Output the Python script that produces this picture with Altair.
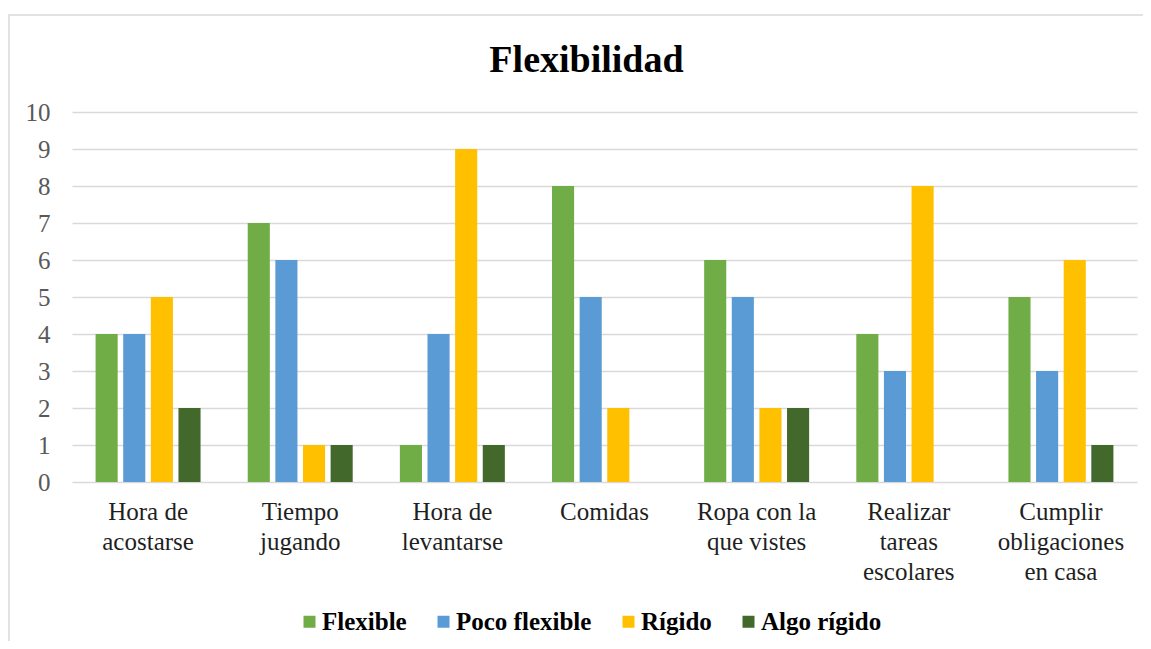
import altair as alt
import pandas as pd

categories = [
    "Hora de acostarse",
    "Tiempo jugando",
    "Hora de levantarse",
    "Comidas",
    "Ropa con la que vistes",
    "Realizar tareas escolares",
    "Cumplir obligaciones en casa",
]
label_lines = [
    ["Hora de", "acostarse"],
    ["Tiempo", "jugando"],
    ["Hora de", "levantarse"],
    ["Comidas"],
    ["Ropa con la", "que vistes"],
    ["Realizar", "tareas", "escolares"],
    ["Cumplir", "obligaciones", "en casa"],
]
series = ["Flexible", "Poco flexible", "Rígido", "Algo rígido"]
colors = ["#70AD47", "#5B9BD5", "#FFC000", "#43682B"]

flexible = [4, 7, 1, 8, 6, 4, 5]
poco_flexible = [4, 6, 4, 5, 5, 3, 3]
rigido = [5, 1, 9, 2, 2, 8, 6]
algo_rigido = [2, 1, 1, 0, 2, 0, 1]

values_by_series = [flexible, poco_flexible, rigido, algo_rigido]
rows = []
for s, vals in zip(series, values_by_series):
    for c, v in zip(categories, vals):
        rows.append({"Categoria": c, "Serie": s, "Valor": v})
df = pd.DataFrame(rows)

# multi-line category labels
expr = ""
for c, lines in zip(categories, label_lines):
    arr = "[" + ",".join("'" + l + "'" for l in lines) + "]"
    expr += f"datum.value == '{c}' ? {arr} : "
expr += "datum.label"

FONT = "Liberation Serif"

bars = alt.Chart(df).mark_bar().encode(
    x=alt.X(
        "Categoria:N",
        sort=categories,
        scale=alt.Scale(paddingInner=0.31, paddingOuter=0.155),
        axis=alt.Axis(
            title=None,
            labelAngle=0,
            domain=False,
            ticks=False,
            grid=False,
            labelExpr=expr,
            labelFont=FONT,
            labelFontSize=25,
            labelColor="#1f1f1f",
            labelLineHeight=30,
            labelPadding=17,
            labelBaseline="top",
        ),
    ),
    xOffset=alt.XOffset(
        "Serie:N", sort=series, scale=alt.Scale(paddingInner=0.2, paddingOuter=0)
    ),
    y=alt.Y(
        "Valor:Q",
        scale=alt.Scale(domain=[0, 10], nice=False),
        axis=alt.Axis(
            title=None,
            values=list(range(11)),
            domain=False,
            ticks=False,
            gridColor="#d9d9d9",
            gridWidth=1.5,
            labelFont=FONT,
            labelFontSize=25,
            labelColor="#595959",
            labelPadding=22,
        ),
    ),
    color=alt.Color(
        "Serie:N",
        sort=series,
        scale=alt.Scale(domain=series, range=colors),
        legend=alt.Legend(
            title=None,
            orient="none",
            direction="horizontal",
            legendX=225,
            legendY=497,
            symbolType="square",
            symbolSize=144,
            symbolStrokeWidth=0,
            labelFont=FONT,
            labelFontSize=25,
            labelFontWeight="bold",
            labelColor="#000000",
            labelOffset=0,
            columnPadding=24,
            labelLimit=400,
        ),
    ),
)

frame = alt.Chart(alt.Data(values=[{}])).mark_rect(
    fill="transparent", stroke="#d9d9d9", strokeWidth=1.5
).encode(
    x=alt.value(-63),
    x2=alt.value(1120),
    y=alt.value(-97),
    y2=alt.value(600),
)

chart = alt.layer(frame, bars).properties(
    width=1065,
    height=370,
    autosize=alt.AutoSizeParams(type="none"),
    padding={"left": 64, "top": 104, "right": 6, "bottom": 159},
    title=alt.Title(
        "Flexibilidad",
        font=FONT,
        fontSize=38,
        fontWeight="bold",
        color="#000000",
        anchor="middle",
        dx=-18,
        offset=-96,
        baseline="alphabetic",
    ),
).configure_view(stroke=None)

chart.save("out.html", embed_options={"renderer": "svg", "actions": False})
